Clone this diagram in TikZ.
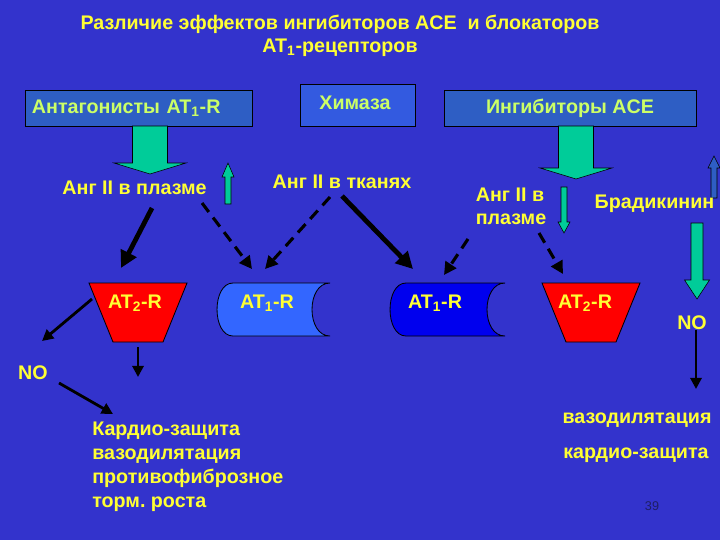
\documentclass[tikz,border=0pt]{standalone}
\usepackage{fontspec}
\setmainfont{Liberation Sans}
\usetikzlibrary{arrows.meta}
\frenchspacing

\definecolor{slide}{RGB}{51,51,204}
\definecolor{ylw}{RGB}{255,255,51}
\definecolor{lime}{RGB}{204,255,102}
\definecolor{boxblue}{RGB}{46,94,196}
\definecolor{chymblue}{RGB}{51,90,224}
\definecolor{grn}{RGB}{0,204,153}
\definecolor{lightrec}{RGB}{51,102,255}
\definecolor{darkrec}{RGB}{0,0,238}
\definecolor{pagenum}{RGB}{30,30,100}

% block arrow: style, x, shaft start, head base, tip, shaft half, head half
\newcommand{\blockarr}[7]{%
  \filldraw[#1] (#2-#6,#3) -- (#2+#6,#3) -- (#2+#6,#4) -- (#2+#7,#4)
    -- (#2,#5) -- (#2-#7,#4) -- (#2-#6,#4) -- cycle;}
% AT2 receptor: red trapezium, centre x
\newcommand{\trapR}[1]{%
  \filldraw[fill=red, draw=black, line width=0.6pt]
    (#1-49,283) -- (#1+49,283) -- (#1+25,342) -- (#1-25,342) -- cycle;}
% AT1 receptor: left x, right x, fill
\newcommand{\recep}[3]{%
  \filldraw[fill=#3, draw=black, line width=0.6pt]
    (#1+16,283) -- (#2,283) .. controls (#2-24,283) and (#2-24,336) .. (#2,336)
    -- (#1+16,336) .. controls (#1-5.3,336) and (#1-5.3,283) .. (#1+16,283) -- cycle;}

\begin{document}
\begin{tikzpicture}[x=0.025cm, y=-0.025cm,
    lbl/.style={text=ylw, font=\bfseries\fontsize{14}{17}\selectfont, inner sep=0pt},
    box/.style={draw=black, line width=0.6pt, fill=boxblue, text=lime,
      font=\bfseries\fontsize{14}{17}\selectfont, inner sep=0pt},
    greenarr/.style={fill=grn, draw=black, line width=0.4pt},
    thickarr/.style={draw=black, line width=3.4pt, -{Triangle[length=12pt,width=12pt]}},
    dasharr/.style={draw=black, line width=2.2pt, dash pattern=on 8pt off 5pt,
      -{Triangle[length=9pt,width=9pt]}},
    thinarr/.style={draw=black, line width=2pt, -{Triangle[length=8pt,width=8pt]}},
  ]
  \fill[slide] (0,0) rectangle (720,540);
  \useasboundingbox (0,0) rectangle (720,540);

  % --- title ---
  \node[lbl] (title) at (340,24) {Различие эффектов ингибиторов ACE\ \ и блокаторов};
  \node[lbl] (title2) at (340,48) {AT\textsubscript{1}-рецепторов};

  % --- drug boxes ---
  \node[box, minimum width=5.675cm, minimum height=0.9cm, text width=5.325cm,
    inner xsep=0.175cm, align=left] (antag) at (138.5,108) {Антагонисты AT\textsubscript{1}-R};
  \node[box, fill=chymblue, minimum width=2.875cm, minimum height=1.05cm,
    anchor=north] (chym) at (357.5,84) {};
  \node[lbl, text=lime] (chymtxt) at (355,103) {Химаза};
  \node[box, minimum width=6.3cm, minimum height=0.9cm] (acei) at (570,108) {Ингибиторы ACE};

  % --- green block arrows ---
  \blockarr{greenarr}{150}{126}{163}{174}{17.5}{36}
  \blockarr{greenarr}{576}{126}{168}{179}{17.5}{36}
  \blockarr{greenarr}{228}{204}{177}{163}{3}{6}
  \blockarr{greenarr}{564}{187}{222}{233}{3}{6}
  \blockarr{fill=boxblue, draw=black, line width=0.4pt}{714}{198}{168}{156}{3}{6}
  \blockarr{greenarr}{697}{223}{280}{299}{6}{12.5}

  % --- angiotensin labels ---
  \node[lbl] (angPl) at (134.5,188) {Анг II в плазме};
  \node[lbl] (angTk) at (342,182) {Анг II в тканях};
  \node[lbl, align=left, font=\bfseries\fontsize{14}{16.3}\selectfont] (angPr) at (511,206) {Анг II в\\плазме};
  \node[lbl] (brad) at (654.5,204) {Брадикинин};

  % --- receptors ---
  \trapR{138}
  \recep{217}{330}{lightrec}
  \recep{390}{505}{darkrec}
  \trapR{591}
  \node[lbl] (at2L) at (135,303) {AT\textsubscript{2}-R};
  \node[lbl] (at1L) at (267,303) {AT\textsubscript{1}-R};
  \node[lbl] (at1R) at (435,303) {AT\textsubscript{1}-R};
  \node[lbl] (at2R) at (585,303) {AT\textsubscript{2}-R};

  % --- arrow ends ---
  \coordinate (pl1) at (152,208);
  \coordinate (pl2) at (202,203);
  \coordinate (tk1) at (330,197);
  \coordinate (tk2) at (342,196);
  \coordinate (pr1) at (468,239);
  \coordinate (pr2) at (539,233);
  \coordinate (at2Lin) at (121,268);
  \coordinate (at1Lin) at (252,269);
  \coordinate (at1Lin2) at (265,269);
  \coordinate (at1Rin) at (413,269);
  \coordinate (at1Rin2) at (444,275);
  \coordinate (at2Rin) at (563,274);
  \coordinate (at2Lout) at (92,299);
  \coordinate (at2Ldn) at (138,347);
  \coordinate (noLout) at (59,383);

  \draw[thickarr] (pl1) -- (at2Lin);
  \draw[dasharr] (pl2) -- (at1Lin);
  \draw[dasharr] (tk1) -- (at1Lin2);
  \draw[thickarr] (tk2) -- (at1Rin);
  \draw[dasharr] (pr1) -- (at1Rin2);
  \draw[dasharr] (pr2) -- (at2Rin);

  % --- AT2 effects, left ---
  \node[lbl] (noL) at (33,373) {NO};
  \node[lbl, anchor=north west, align=left, font=\bfseries\fontsize{14}{17}\selectfont]
    (effL) at (92,422) {Кардио-защита\\вазодилятация\\противофиброзное\\торм. роста};
  \coordinate (noLin) at (42,341);
  \coordinate (effLdn) at (138,377);
  \coordinate (effLin) at (113,414);
  \draw[thinarr] (at2Lout) -- (noLin);
  \draw[thinarr] (at2Ldn) -- (effLdn);
  \draw[thinarr] (noLout) -- (effLin);

  % --- bradykinin effects, right ---
  \node[lbl] (noR) at (692,323) {NO};
  \node[lbl] (effR1) at (637,420) {вазодилятация};
  \node[lbl] (effR2) at (636,455) {кардио-защита};
  \coordinate (noRin) at (696,389);
  \draw[thinarr] (noR.south -| noRin) ++(0,-0.2) -- (noRin);

  \node[text=pagenum, font=\fontsize{9}{10}\selectfont] (page) at (652,506) {39};
\end{tikzpicture}
\end{document}
